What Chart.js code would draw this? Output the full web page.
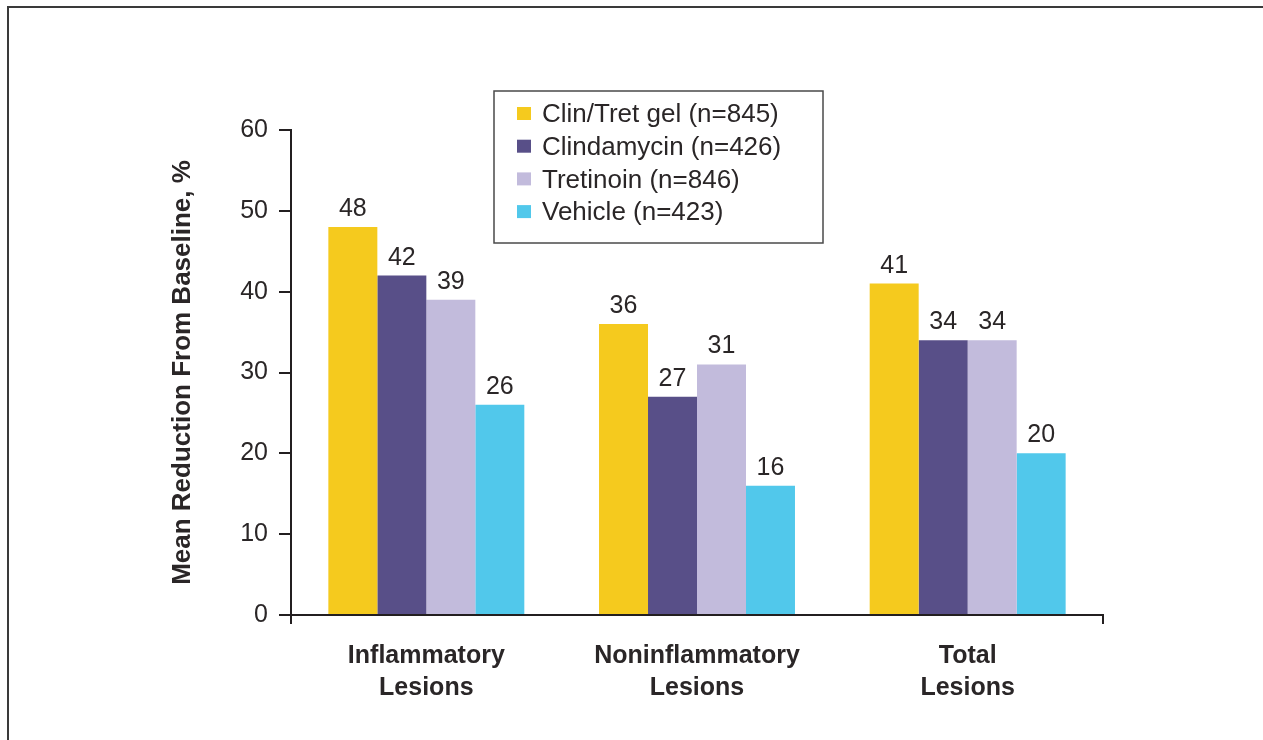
<!DOCTYPE html>
<html>
<head>
<meta charset="utf-8">
<script src="https://cdn.jsdelivr.net/npm/chart.js@4/dist/chart.umd.min.js"></script>
<style>
  html, body { margin: 0; padding: 0; background: #fff; overflow: hidden; }
  #wrap { position: relative; width: 1263px; height: 740px; }
  #frame { position: absolute; left: 7px; top: 6px; width: 1300px; height: 800px; border: 2px solid #3a3a3a; box-sizing: border-box; }
  #chart { position: absolute; left: 0; top: 0; }
</style>
</head>
<body>
<div id="wrap">
  <div id="frame"></div>
  <canvas id="chart" width="1263" height="740"></canvas>
</div>
<script>
var categories = [['Inflammatory', 'Lesions'], ['Noninflammatory', 'Lesions'], ['Total', 'Lesions']];
var seriesNames = ['Clin/Tret gel (n=845)', 'Clindamycin (n=426)', 'Tretinoin (n=846)', 'Vehicle (n=423)'];
var clinTretValues = [48, 36, 41];
var clindamycinValues = [42, 27, 34];
var tretinoinValues = [39, 31, 34];
var vehicleValues = [26, 16, 20];
var yTickValues = [0, 10, 20, 30, 40, 50, 60];

var seriesColors = ['#f5ca1e', '#584f88', '#c2bbdc', '#51c8eb'];
var textColor = '#2a2627';
var axisColor = '#231f20';
var fontFamily = '"Liberation Sans", Arial, Helvetica, sans-serif';

// numbers above every bar
var valueLabels = {
    id: 'valueLabels',
    afterDatasetsDraw: function (chart) {
        var ctx = chart.ctx;
        ctx.save();
        ctx.font = '25px ' + fontFamily;
        ctx.fillStyle = textColor;
        ctx.textAlign = 'center';
        ctx.textBaseline = 'alphabetic';
        chart.data.datasets.forEach(function (ds, i) {
            chart.getDatasetMeta(i).data.forEach(function (bar, j) {
                ctx.fillText(String(ds.data[j]), bar.x, bar.y - 11);
            });
        });
        ctx.restore();
    }
};

// boxed legend sitting inside the plot
var boxLegend = {
    id: 'boxLegend',
    afterDraw: function (chart) {
        var ctx = chart.ctx;
        var area = chart.chartArea;
        var x = area.left + 203;
        var y = area.top - 39;
        ctx.save();
        ctx.strokeStyle = '#4a4a4a';
        ctx.lineWidth = 1.5;
        ctx.strokeRect(x, y, 329, 152);
        ctx.font = '26px ' + fontFamily;
        ctx.textAlign = 'left';
        ctx.textBaseline = 'middle';
        chart.data.datasets.forEach(function (ds, i) {
            var cy = y + 23 + i * 32.7;
            ctx.fillStyle = ds.backgroundColor;
            ctx.fillRect(x + 23, cy - 7, 14, 13);
            ctx.fillStyle = textColor;
            ctx.fillText(ds.label, x + 48, cy + 1);
        });
        ctx.restore();
    }
};

var allValues = [clinTretValues, clindamycinValues, tretinoinValues, vehicleValues];

var chart = new Chart(document.getElementById('chart').getContext('2d'), {
    type: 'bar',
    data: {
        labels: categories,
        datasets: allValues.map(function (vals, i) {
            return {
                label: seriesNames[i],
                data: vals,
                backgroundColor: seriesColors[i],
                borderWidth: 0,
                categoryPercentage: 0.724,
                barPercentage: 1.0
            };
        })
    },
    options: {
        responsive: false,
        animation: false,
        layout: { padding: { left: 150, right: 160, top: 130, bottom: 25 } },
        plugins: {
            legend: { display: false },
            tooltip: { enabled: false }
        },
        scales: {
            x: {
                grid: {
                    offset: true,
                    drawOnChartArea: false,
                    drawTicks: true,
                    tickLength: 9,
                    lineWidth: 2,
                    // only the two outer boundary ticks are shown
                    color: function (c) {
                        return (c.type === 'tick' && c.index > 0) ? 'rgba(0,0,0,0)' : axisColor;
                    }
                },
                border: { color: axisColor, width: 2 },
                ticks: {
                    color: textColor,
                    padding: 16,
                    maxRotation: 0,
                    font: { family: fontFamily, size: 25, weight: 'bold', lineHeight: 1.28 }
                },
                afterFit: function (scale) { scale.height = 100; }
            },
            y: {
                min: 0,
                max: 60,
                afterBuildTicks: function (scale) {
                    scale.ticks = yTickValues.map(function (v) { return { value: v }; });
                },
                ticks: {
                    color: textColor,
                    padding: 11,
                    font: { family: fontFamily, size: 25 }
                },
                grid: {
                    drawOnChartArea: false,
                    tickLength: 12,
                    lineWidth: 2,
                    color: axisColor
                },
                border: { color: axisColor, width: 2 },
                title: {
                    display: true,
                    text: 'Mean Reduction From Baseline, %',
                    color: textColor,
                    font: { family: fontFamily, size: 26, weight: 'bold' },
                    padding: { top: 17, bottom: 0 }
                },
                afterFit: function (scale) { scale.width = 141; }
            }
        }
    },
    plugins: [valueLabels, boxLegend]
});
</script>
</body>
</html>
